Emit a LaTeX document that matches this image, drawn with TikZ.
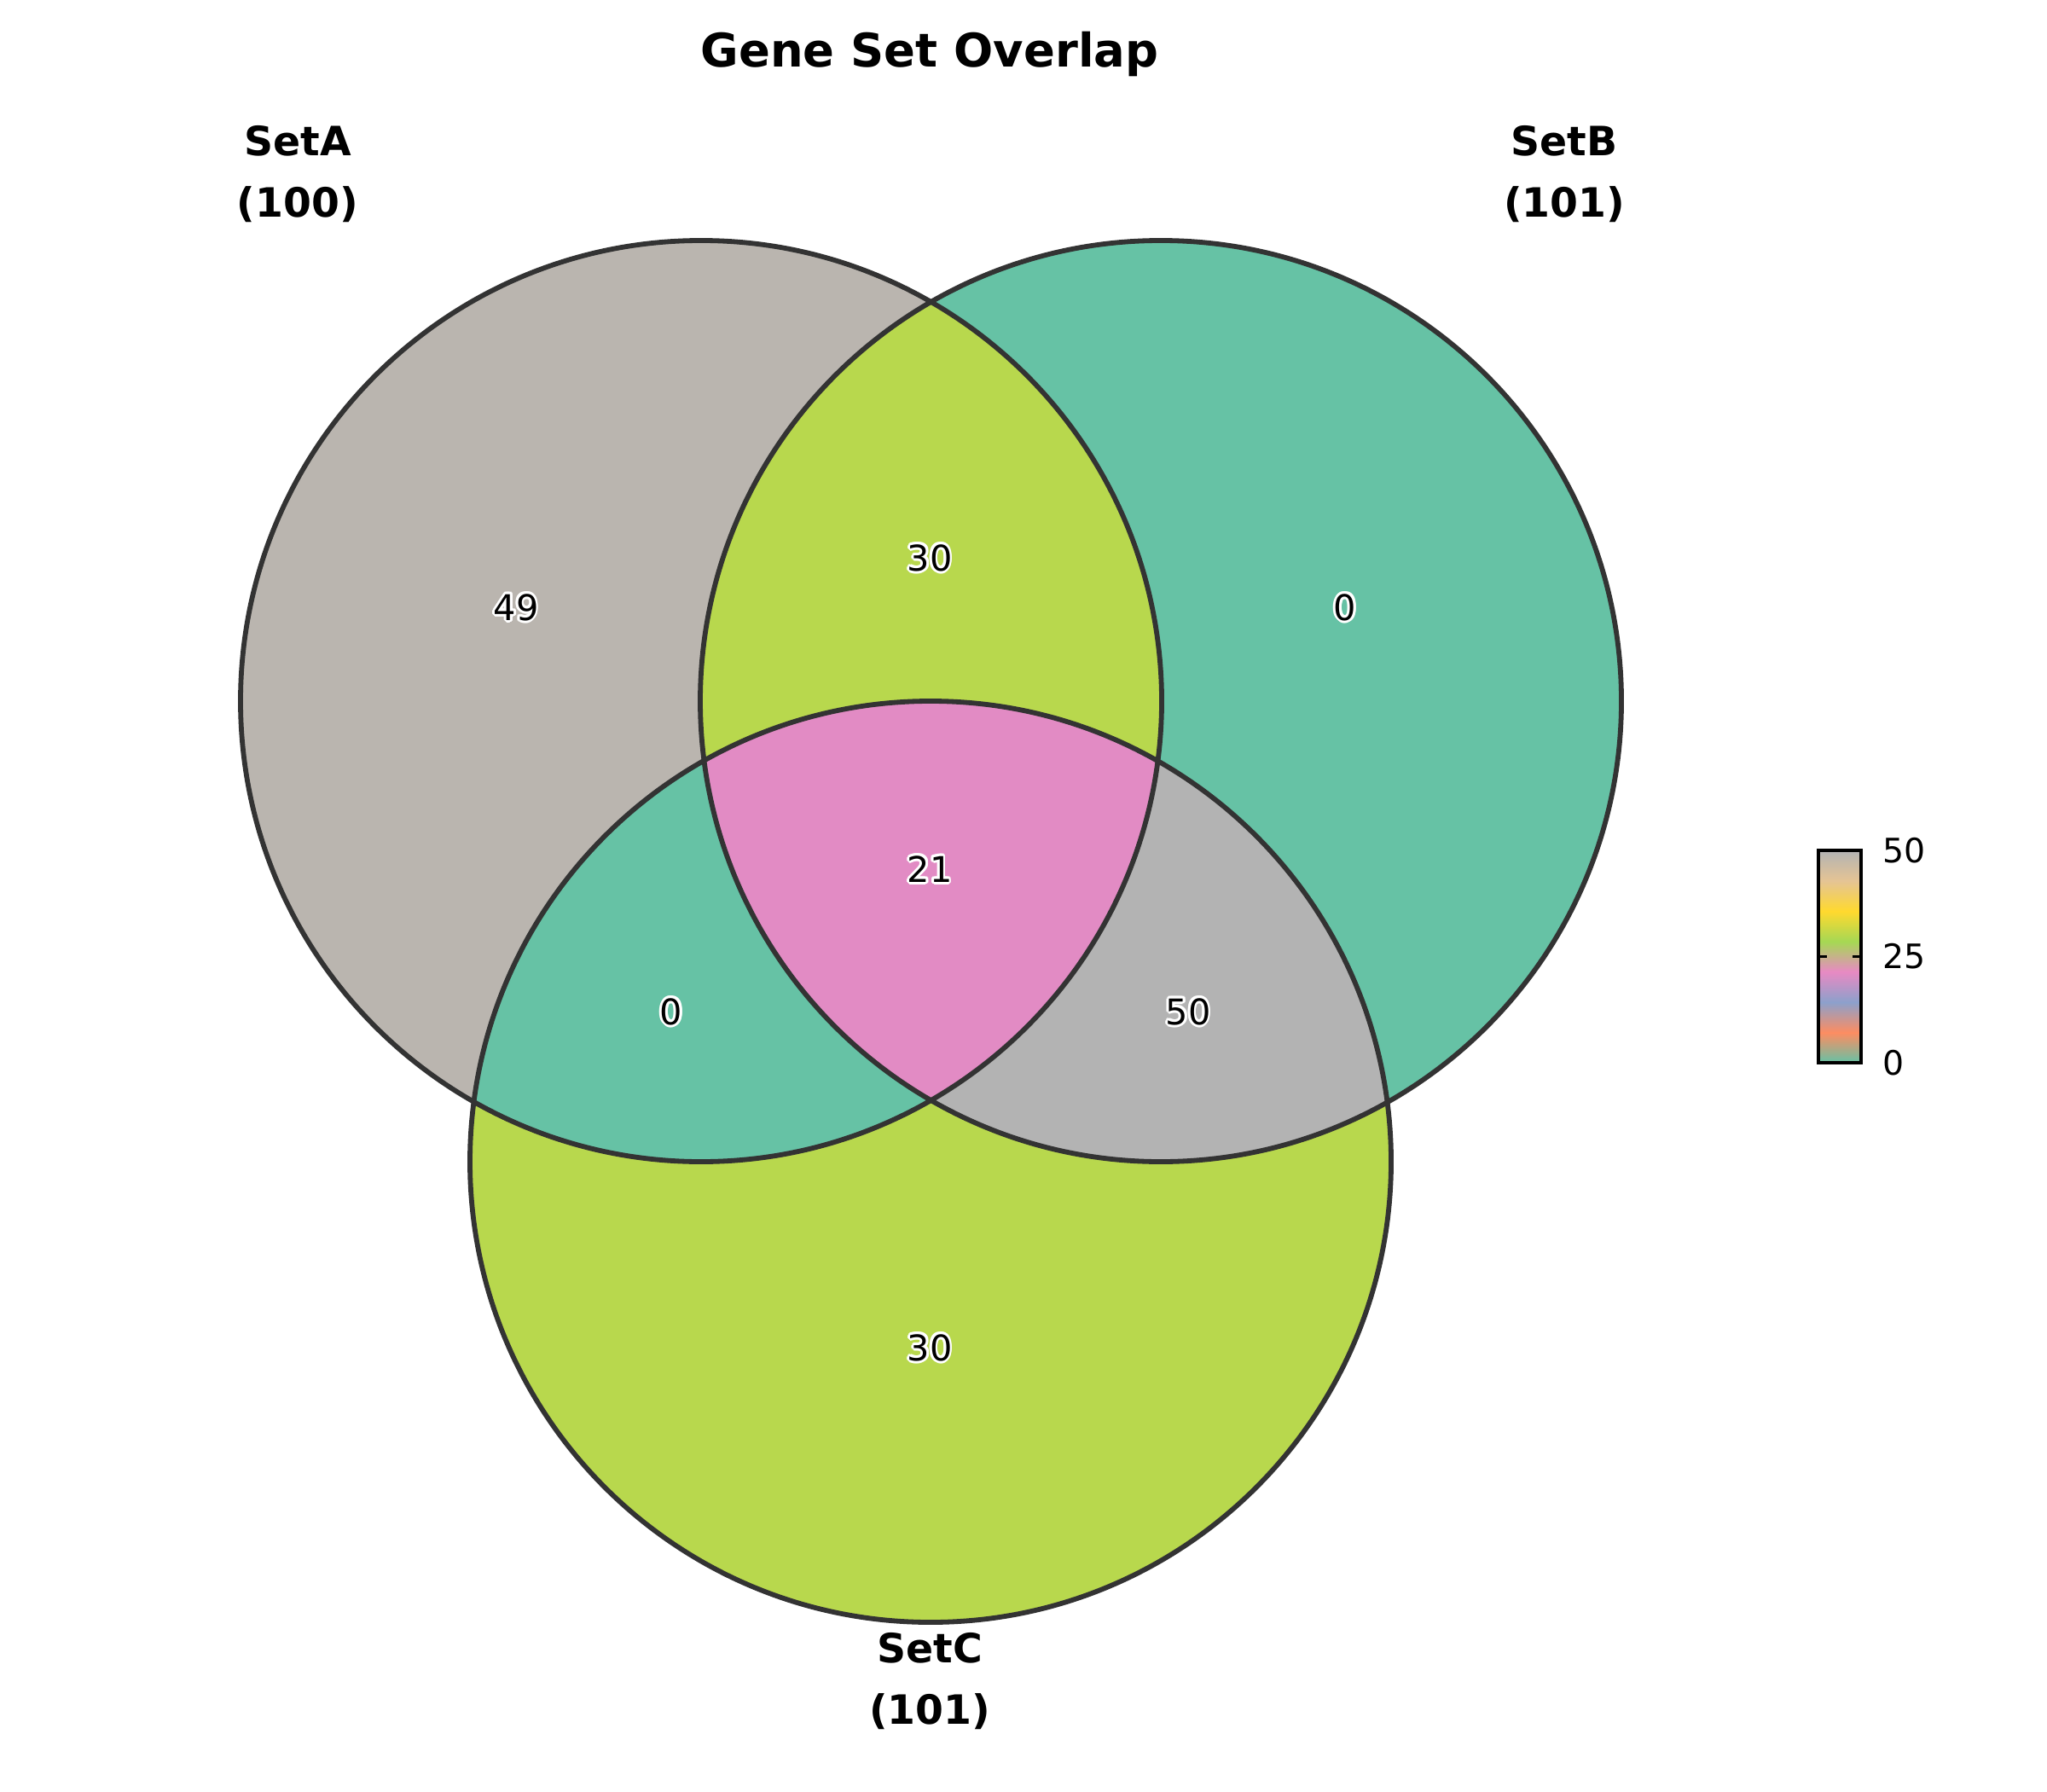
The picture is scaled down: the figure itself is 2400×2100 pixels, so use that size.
\documentclass[tikz,border=0pt]{standalone}
\usepackage{fontspec}
\setmainfont{DejaVu Sans}
\definecolor{aonly}{RGB}{186,181,175}
\definecolor{bonly}{RGB}{102,194,165}
\definecolor{conly}{RGB}{184,216,77}
\definecolor{abcol}{RGB}{184,216,77}
\definecolor{accol}{RGB}{102,194,165}
\definecolor{bccol}{RGB}{179,179,179}
\definecolor{abccol}{RGB}{226,139,196}
\definecolor{edge}{RGB}{51,51,51}
\definecolor{sA}{HTML}{66C2A5}
\definecolor{sB}{HTML}{FC8D62}
\definecolor{sC}{HTML}{8DA0CB}
\definecolor{sD}{HTML}{E78AC3}
\definecolor{sE}{HTML}{A6D854}
\definecolor{sF}{HTML}{FFD92F}
\definecolor{sG}{HTML}{E5C494}
\definecolor{sH}{HTML}{B3B3B3}
\newcommand{\outlinednum}[3]{%
  \foreach \ang in {0,30,...,330}
    \node[numtxt,text=white,shift={(\ang:0.7pt)}] at (#2) {#3};
  \node[numtxt] (#1) at (#2) {#3};}
\tikzset{
  numtxt/.style={inner sep=0pt, font=\fontsize{10}{12}\selectfont},
  setlabel/.style={align=center, inner sep=0pt, font=\bfseries\fontsize{11.4}{17.3}\selectfont},
  ticklab/.style={anchor=west, inner sep=0pt, font=\fontsize{9.5}{11}\selectfont},
  outline/.style={draw=edge, line width=1.4pt},
}
\begin{document}
\begin{tikzpicture}[x=0.2409pt,y=-0.2409pt]
\useasboundingbox[fill=white] (0,0) rectangle (2400,2100);
\def\R{130.09pt}
\coordinate (cA) at (822,822);
\coordinate (cB) at (1361,822);
\coordinate (cC) at (1091,1362);
% single-set fills
\fill[aonly] (cA) circle[radius=\R];
\fill[bonly] (cB) circle[radius=\R];
\fill[conly] (cC) circle[radius=\R];
% pairwise
\begin{scope}\clip (cA) circle[radius=\R]; \fill[abcol] (cB) circle[radius=\R];\end{scope}
\begin{scope}\clip (cA) circle[radius=\R]; \fill[accol] (cC) circle[radius=\R];\end{scope}
\begin{scope}\clip (cB) circle[radius=\R]; \fill[bccol] (cC) circle[radius=\R];\end{scope}
% triple
\begin{scope}\clip (cA) circle[radius=\R]; \clip (cB) circle[radius=\R]; \fill[abccol] (cC) circle[radius=\R];\end{scope}
% outlines
\draw[outline] (cA) circle[radius=\R];
\draw[outline] (cB) circle[radius=\R];
\draw[outline] (cC) circle[radius=\R];
% region numbers
\coordinate (pA) at (605,712);
\coordinate (pAB) at (1090,654);
\coordinate (pB) at (1577,712);
\coordinate (pABC) at (1090,1019);
\coordinate (pAC) at (787,1186);
\coordinate (pBC) at (1393,1186);
\coordinate (pC) at (1090,1580);
\outlinednum{nA}{pA}{49}
\outlinednum{nAB}{pAB}{30}
\outlinednum{nB}{pB}{0}
\outlinednum{nABC}{pABC}{21}
\outlinednum{nAC}{pAC}{0}
\outlinednum{nBC}{pBC}{50}
\outlinednum{nC}{pC}{30}
% set labels
\node[setlabel] (lA) at (349,204) {SetA\\(100)};
\node[setlabel] (lB) at (1834,204) {SetB\\(101)};
\node[setlabel] (lC) at (1090,1971) {SetC\\(101)};
% title
\node[inner sep=0pt, font=\bfseries\fontsize{13.1}{16}\selectfont] (title) at (1090,64) {Gene Set Overlap};
% colorbar
\def\cbl{2132}\def\cbr{2182}\def\cbb{1246}\def\cbt{997}
\foreach \lo/\hi [count=\i from 0] in {sA/sB,sB/sC,sC/sD,sD/sE,sE/sF,sF/sG,sG/sH}{
  \pgfmathsetmacro\ya{\cbb-(\cbb-\cbt)*\i/7}
  \pgfmathsetmacro\yb{\cbb-(\cbb-\cbt)*(\i+1)/7}
  \shade[bottom color=\lo, top color=\hi] (\cbl,\ya) rectangle (\cbr,\yb+0.5);
}
\draw[black, line width=0.9pt] (\cbl,\cbb) rectangle (\cbr,\cbt);
\foreach \v/\yy in {0/1246,25/1121.5,50/997}{
  \draw[black, line width=0.9pt] (\cbl,\yy) -- (\cbl+10,\yy);
  \draw[black, line width=0.9pt] (\cbr,\yy) -- (\cbr-10,\yy);
}
\node[ticklab] (t50) at (2207,997) {50};
\node[ticklab] (t25) at (2207,1121.5) {25};
\node[ticklab] (t0) at (2207,1246) {0};
\end{tikzpicture}
\end{document}
